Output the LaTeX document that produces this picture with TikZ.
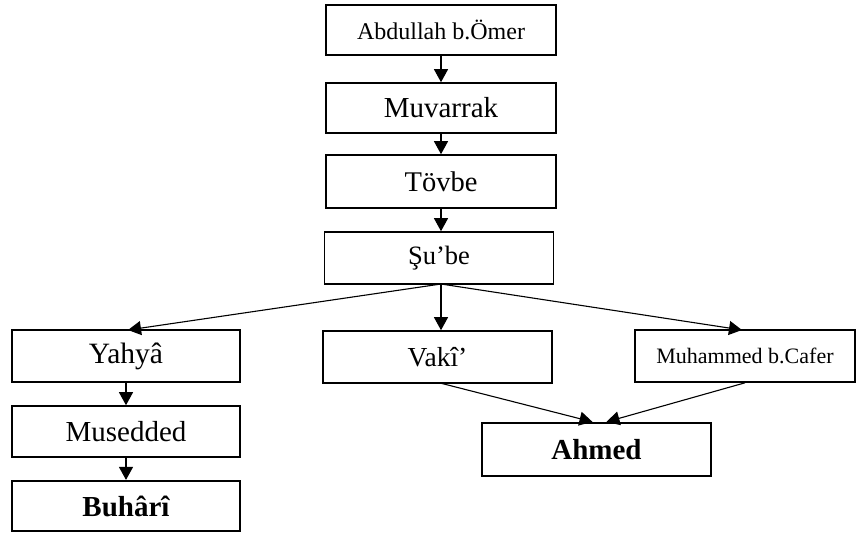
\documentclass[tikz,border=0pt]{standalone}
\usepackage{fontspec}
\setmainfont{Liberation Serif}
\usetikzlibrary{arrows.meta}
\newcommand{\fsz}[1]{\fontsize{#1}{#1}\selectfont}
\begin{document}
\begin{tikzpicture}[x=1pt,y=-1pt,
  box/.style={draw, line width=1.6pt, rectangle, minimum width=229pt, minimum height=51pt, inner sep=0pt, font=\fsz{28}},
  bbox/.style={box, line width=2.2pt},
  arr/.style={line width=1.1pt, -{Triangle[width=14pt,length=13pt]}},
  ln/.style={line width=1.1pt}]
\useasboundingbox (0,0) rectangle (857,533);
\node[box, font=\fsz{24}, minimum width=230pt, minimum height=50pt] (abd) at (441,30) {Abdullah b.Ömer};
\node[box, font=\fsz{29}, minimum width=230pt, minimum height=50pt] (muv) at (441,108) {Muvarrak};
\node[box, font=\fsz{28.5}, minimum width=230pt, minimum height=53pt] (tov) at (441,181.5) {Tövbe};
\node[box, font=\fsz{26.5}, minimum width=229pt, minimum height=52pt] (sub) at (439,258) {Şu’be};
\node[box, font=\fsz{29.5}, minimum width=228pt, minimum height=52pt] (yah) at (126,356) {Yahyâ};
\node[box, font=\fsz{27.5}, minimum width=229pt, minimum height=52pt] (vak) at (437.5,357) {Vakî’};
\node[box, font=\fsz{22}, minimum width=220pt, minimum height=52pt] (muh) at (745,356) {Muhammed b.Cafer};
\node[box, font=\fsz{29}, minimum width=228pt, minimum height=51pt] (mus) at (126,431.5) {Musedded};
\node[bbox, font=\fsz{29}\bfseries, minimum width=228pt, minimum height=50pt] (buh) at (126,506) {Buhârî};
\node[bbox, font=\fsz{29}\bfseries, minimum width=229pt, minimum height=53pt] (ahm) at (596.5,449.5) {Ahmed};
\coordinate (sb) at (441,284);
\draw[arr] (abd.south) -- (muv.north);
\draw[arr] (muv.south) -- (tov.north);
\draw[arr] (tov.south) -- (tov.south |- sub.north);
\draw[arr] (sb) -- (128,330);
\draw[arr] (sb) -- (sb |- vak.north);
\draw[arr] (sb) -- (742,330);
\draw[arr] (yah.south) -- (mus.north);
\draw[arr] (mus.south) -- (buh.north);
\draw[arr] (440,383) -- ([xshift=-4pt]ahm.north);
\draw[arr] (muh.south) -- ([xshift=10pt]ahm.north);
\end{tikzpicture}
\end{document}
